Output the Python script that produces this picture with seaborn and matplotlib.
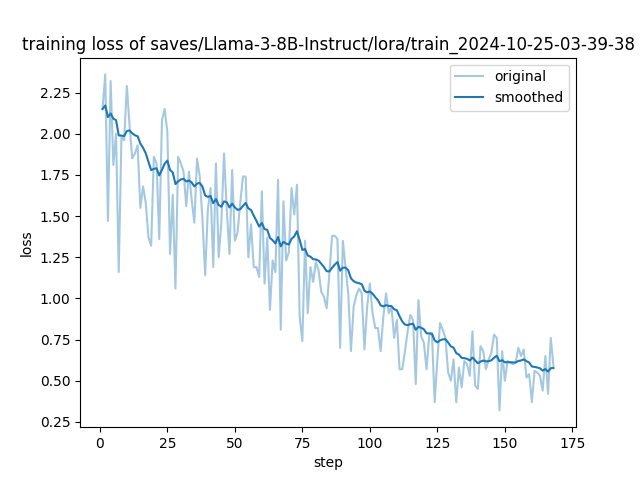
import math

import matplotlib

matplotlib.use("Agg")
import matplotlib.pyplot as plt
import pandas as pd
import seaborn as sns

TITLE = "training loss of saves/Llama-3-8B-Instruct/lora/train_2024-10-25-03-39-38"

# loss, steps 1..168
loss = [
    2.15, 2.36, 1.47, 2.32, 1.81, 2.00, 1.16, 1.98, 1.96, 2.29,
    2.05, 1.85, 1.88, 1.93, 1.55, 1.68, 1.58, 1.37, 1.32, 1.86,
    1.82, 1.36, 2.08, 2.15, 2.01, 1.27, 1.63, 1.06, 1.86, 1.82,
    1.77, 1.56, 1.77, 1.60, 1.46, 1.85, 1.74, 1.48, 1.14, 1.54,
    1.67, 1.19, 1.82, 1.25, 1.46, 1.88, 1.54, 1.27, 1.78, 1.35,
    1.40, 1.58, 1.74, 1.74, 1.25, 1.45, 1.19, 1.19, 1.13, 1.65,
    1.09, 1.37, 0.93, 1.23, 1.16, 1.72, 0.81, 1.59, 1.23, 1.28,
    1.67, 1.51, 1.69, 0.89, 0.74, 1.35, 0.91, 1.19, 1.10, 1.22,
    1.17, 1.04, 1.01, 0.94, 1.15, 1.38, 1.38, 1.36, 0.70, 1.35,
    1.19, 1.03, 0.68, 0.95, 1.02, 1.06, 1.03, 0.69, 0.95, 1.09,
    0.91, 0.82, 0.82, 0.68, 0.89, 1.03, 0.91, 0.95, 0.76, 0.87,
    0.57, 0.57, 0.68, 0.80, 0.90, 0.87, 0.48, 0.99, 0.77, 0.73,
    0.57, 0.78, 0.78, 0.37, 0.63, 0.85, 0.81, 0.76, 0.55, 0.50,
    0.63, 0.37, 0.58, 0.46, 0.62, 0.60, 0.53, 0.80, 0.47, 0.45,
    0.71, 0.68, 0.57, 0.63, 0.67, 0.78, 0.76, 0.32, 0.68, 0.50,
    0.62, 0.61, 0.60, 0.61, 0.70, 0.65, 0.69, 0.52, 0.54, 0.37,
    0.56, 0.55, 0.53, 0.44, 0.65, 0.42, 0.76, 0.59,
]
steps = list(range(1, len(loss) + 1))


def smooth(scalars):
    """
    EMA smoothing (same as the training script)
    """
    if len(scalars) == 0:
        return []
    last = scalars[0]
    weight = 1.8 * (1 / (1 + math.exp(-0.05 * len(scalars))) - 0.5)
    out = []
    for v in scalars:
        last = last * weight + (1 - weight) * v
        out.append(last)
    return out


df = pd.DataFrame({"step": steps, "original": loss, "smoothed": smooth(loss)})

fig, ax = plt.subplots(figsize=(6.4, 4.8), dpi=100)
sns.lineplot(data=df, x="step", y="original", color="#1f77b4", alpha=0.4,
             label="original", ax=ax)
sns.lineplot(data=df, x="step", y="smoothed", color="#1f77b4",
             label="smoothed", ax=ax)
ax.set_title(TITLE)
ax.set_xlabel("step")
ax.set_ylabel("loss")
ax.legend(loc="best")

plt.savefig("out.png", dpi=100)
plt.close()
